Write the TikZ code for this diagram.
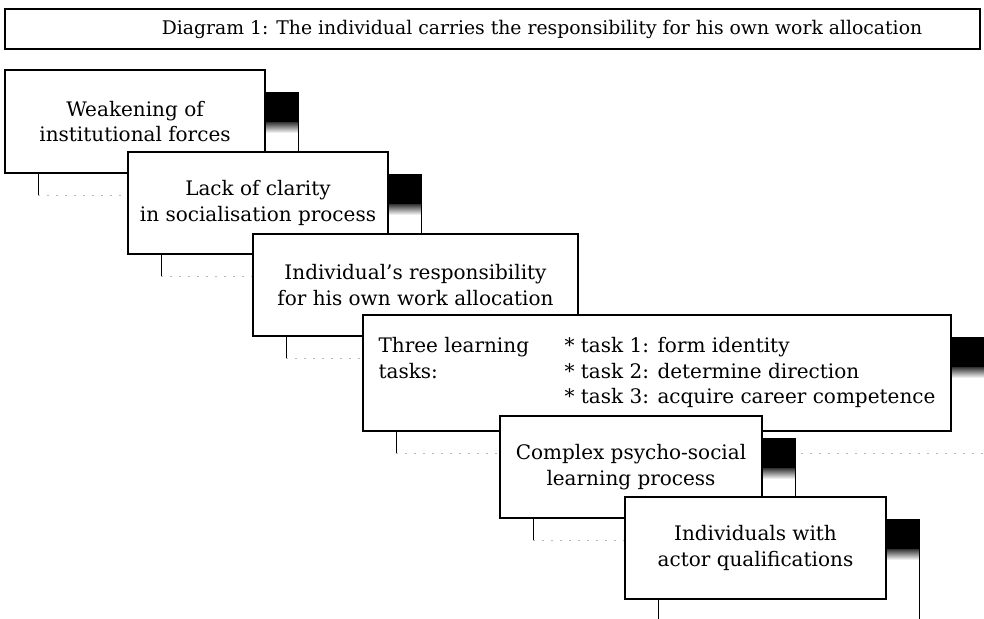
\documentclass[tikz,border=0pt]{standalone}
\usepackage{fontspec}
\setmainfont{DejaVu Serif}
\usetikzlibrary{calc}
\pgfdeclarelayer{background}
\pgfsetlayers{background,main}
\newcommand\shadowbase[1]{%
  \draw[shline] ($(#1.south west)+(33,0)$) -- ($(#1.south west)+(33,22)$);
  \draw[shdash] ($(#1.south west)+(33,22)$) -- ($(#1.south east)+(33,22)$);}
\newcommand\shadowside[1]{%
  \fill[black] ($(#1.north east)+(0,22)$) rectangle ($(#1.north east)+(33,52)$);
  \shade[top color=black!80, bottom color=white] ($(#1.north east)+(0,52)$) rectangle ($(#1.north east)+(33,63)$);
  \draw[shline] ($(#1.north east)+(33,22)$) -- ($(#1.south east)+(33,22)$);}
\begin{document}
\begin{tikzpicture}[x=1pt,y=-1pt,
  box/.style={draw=black, line width=1.4pt, fill=white, inner sep=0pt, outer sep=0pt,
    align=center, anchor=north west, font=\fontsize{20}{25.5}\selectfont},
  titlebox/.style={draw=black, line width=1.2pt, inner sep=0pt, outer sep=0pt,
    anchor=north west},
  titletext/.style={inner sep=0pt, font=\fontsize{18.8}{22}\selectfont},
  shline/.style={line width=0.7pt, black},
  shdash/.style={line width=0.6pt, gray!55, dash pattern=on 2pt off 7pt}]
\useasboundingbox (0,0) rectangle (984,618);

\node[titlebox, minimum width=975pt, minimum height=40pt] (title) at (5,9) {};
\node[titletext] (titlelabel) at (542,29)
  {Diagram 1: The individual carries the responsibility for his own work allocation};

\node[box, minimum width=260pt, minimum height=103pt] (b1) at (5,70)
  {Weakening of\\institutional forces};
\node[box, minimum width=260pt, minimum height=102pt] (b2) at (128,152)
  {Lack of clarity\\in socialisation process};
\node[box, minimum width=325pt, minimum height=102pt] (b3) at (253,234)
  {Individual's responsibility\\for his own work allocation};
\node[box, minimum width=588pt, minimum height=116pt] (b4) at (363,315)
  {\begin{tabular}{@{}p{186pt}@{}l@{}}
    Three learning & * task 1: form identity\\
    tasks: & * task 2: determine direction\\
     & * task 3: acquire career competence
   \end{tabular}};
\node[box, minimum width=262pt, minimum height=102pt] (b5) at (500,416)
  {Complex psycho-social\\learning process};
\node[box, minimum width=261pt, minimum height=102pt] (b6) at (625,497)
  {Individuals with\\actor qualifications};

\begin{pgfonlayer}{background}
  \shadowbase{b1}\shadowside{b1}
  \shadowbase{b2}\shadowside{b2}
  \shadowbase{b3}
  \shadowbase{b4}\shadowside{b4}
  \shadowbase{b5}\shadowside{b5}
  \shadowbase{b6}\shadowside{b6}
\end{pgfonlayer}
\end{tikzpicture}
\end{document}
